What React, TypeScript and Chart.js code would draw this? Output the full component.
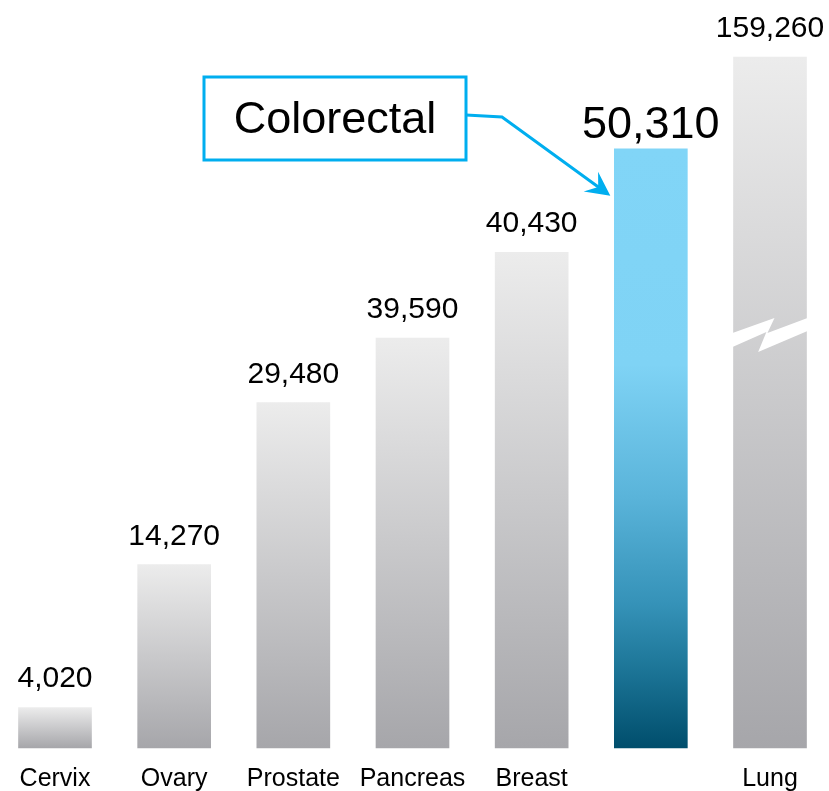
import React, { useEffect, useRef } from "react";
import { Chart, registerables } from "chart.js";

Chart.register(...registerables);

// ---- data ----
const categories = ["Cervix", "Ovary", "Prostate", "Pancreas", "Breast", "Colorectal", "Lung"];
const caseCounts = [4020, 14270, 29480, 39590, 40430, 50310, 159260];
const valueLabels = ["4,020", "14,270", "29,480", "39,590", "40,430", "50,310", "159,260"];
// bar heights as drawn in the (not-to-scale) infographic, in cases; Lung bar is broken
const drawnHeights = [3400, 15400, 29000, 34400, 41600, 50300, 58000];
const highlighted = "Colorectal";
const brokenBar = "Lung";
const yMax = 58000;

const FONT = "'Liberation Sans', Arial, sans-serif";
const CYAN = "#00aeef";

const labelsPlugin = {
  id: "customLabels",
  afterDatasetsDraw(chart: any) {
    const ctx = chart.ctx;
    const meta = chart.getDatasetMeta(0);
    ctx.save();
    meta.data.forEach((el: any, i: number) => {
      const name = categories[i];
      const left = el.x - el.width / 2;
      const top = el.y;
      // broken bar zigzag
      if (name === brokenBar) {
        const w = el.width;
        const pts = [
          [0, 276], [0.56, 261], [0.466, 276], [1, 261],
          [1, 274], [0.342, 295], [0.452, 275], [0, 290],
        ];
        ctx.fillStyle = "#ffffff";
        ctx.beginPath();
        pts.forEach(([fx, dy], k) => {
          const px = left - 1 + fx * (w + 2);
          const py = top + dy;
          if (k === 0) ctx.moveTo(px, py);
          else ctx.lineTo(px, py);
        });
        ctx.closePath();
        ctx.fill();
      }
      // value labels
      ctx.fillStyle = "#000000";
      ctx.textAlign = "center";
      ctx.textBaseline = "alphabetic";
      if (name === highlighted) {
        ctx.font = `45px ${FONT}`;
        ctx.fillText(valueLabels[i], el.x, top - 11);
      } else {
        ctx.font = `30px ${FONT}`;
        ctx.fillText(valueLabels[i], el.x, top - 20);
      }
      // annotation
      if (name === highlighted) {
        const bx = 204, by = 77, bw = 262, bh = 83;
        ctx.strokeStyle = CYAN;
        ctx.lineWidth = 3;
        ctx.strokeRect(bx, by, bw, bh);
        ctx.fillStyle = "#000000";
        ctx.font = `45px ${FONT}`;
        ctx.textAlign = "center";
        ctx.textBaseline = "middle";
        ctx.fillText(name, bx + bw / 2, by + bh / 2 + 2);
        // connector
        const tipX = left - 4;
        const tipY = top + 47;
        const sx = bx + bw, sy = 115;
        const mx = 502, my = 117;
        ctx.lineWidth = 3;
        ctx.beginPath();
        ctx.moveTo(sx, sy);
        ctx.lineTo(mx, my);
        const ang = Math.atan2(tipY - my, tipX - mx);
        const back = 14;
        ctx.lineTo(tipX - back * Math.cos(ang), tipY - back * Math.sin(ang));
        ctx.stroke();
        // arrowhead
        const L = 27, ha = (27 * Math.PI) / 180;
        ctx.fillStyle = CYAN;
        ctx.beginPath();
        ctx.moveTo(tipX, tipY);
        ctx.lineTo(tipX - L * Math.cos(ang - ha), tipY - L * Math.sin(ang - ha));
        ctx.lineTo(tipX - 15 * Math.cos(ang), tipY - 15 * Math.sin(ang));
        ctx.lineTo(tipX - L * Math.cos(ang + ha), tipY - L * Math.sin(ang + ha));
        ctx.closePath();
        ctx.fill();
      }
    });
    ctx.restore();
  },
};

export default function App() {
  const ref = useRef<HTMLCanvasElement | null>(null);

  useEffect(() => {
    if (!ref.current) return;
    const chart = new Chart(ref.current, {
      type: "bar",
      data: {
        labels: categories,
        datasets: [
          {
            label: "New cases",
            data: drawnHeights,
            barThickness: 73,
            clip: false as any,
            borderWidth: 0,
            backgroundColor: (c: any) => {
              const ch = c.chart;
              if (!ch.chartArea || c.type !== "data") return "#cccccc";
              const ys = ch.scales.y;
              const t = ys.getPixelForValue(drawnHeights[c.dataIndex]);
              const b = ys.getPixelForValue(0);
              const g = ch.ctx.createLinearGradient(0, t, 0, b);
              if (categories[c.dataIndex] === highlighted) {
                g.addColorStop(0, "#81d5f7");
                g.addColorStop(0.36, "#7fd3f5");
                g.addColorStop(0.58, "#5ab4da");
                g.addColorStop(0.76, "#3592b8");
                g.addColorStop(0.87, "#1c7597");
                g.addColorStop(1, "#004e6c");
              } else {
                g.addColorStop(0, "#ececec");
                g.addColorStop(1, "#a6a6aa");
              }
              return g;
            },
          },
        ],
      },
      options: {
        responsive: true,
        maintainAspectRatio: false,
        animation: false,
        layout: { padding: { left: 55, right: 59, top: 57, bottom: 0 } },
        plugins: {
          legend: { display: false },
          tooltip: { enabled: false },
          title: { display: false },
        },
        scales: {
          x: {
            offset: false,
            grid: { display: false, drawTicks: false },
            border: { display: false },
            ticks: {
              padding: 19,
              color: "#000000",
              font: { family: FONT, size: 25, lineHeight: 1 },
              maxRotation: 0,
              autoSkip: false,
              callback: (_v: any, i: number) => (categories[i] === highlighted ? "" : categories[i]),
            },
            afterFit: (scale: any) => {
              scale.height = 43;
            },
          },
          y: {
            display: false,
            min: 0,
            max: yMax,
          },
        },
      },
      plugins: [labelsPlugin],
    });
    return () => chart.destroy();
  }, []);

  return (
    <div style={{ position: "fixed", left: 0, top: 0, width: 829, height: 791, background: "#ffffff" }}>
      <canvas ref={ref} />
    </div>
  );
}
